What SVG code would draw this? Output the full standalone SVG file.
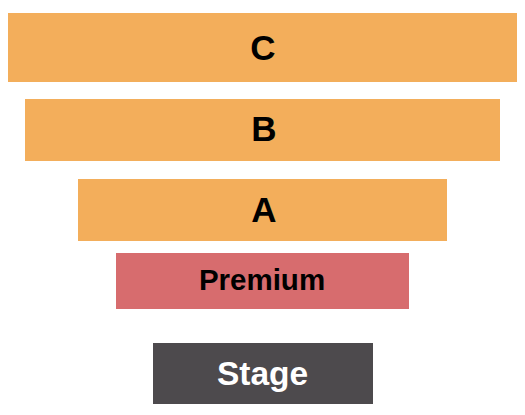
<svg xmlns="http://www.w3.org/2000/svg" width="525" height="415" viewBox="0 0 525 415">
<style>
.sec{fill:#F3AE5B}
.prem{fill:#D76C6E}
.stage{fill:#4D4A4D}
text{font-family:"Liberation Sans",Arial,sans-serif;font-weight:bold;text-anchor:middle}
.big{font-size:35px;fill:#000}
.pl{font-size:29.5px;fill:#000}
.sl{font-size:33.5px;fill:#fff}
</style>
<rect width="525" height="415" fill="#fff"/>
<g id="section-C"><rect class="sec" x="8" y="13" width="509" height="69"/><text class="big" x="263" y="59.5">C</text></g>
<g id="section-B"><rect class="sec" x="25" y="99" width="475" height="62"/><text class="big" x="264" y="141">B</text></g>
<g id="section-A"><rect class="sec" x="78" y="179" width="369" height="62"/><text class="big" x="264" y="221.5">A</text></g>
<g id="section-Premium"><rect class="prem" x="116" y="253" width="293" height="56"/><text class="pl" x="262" y="290">Premium</text></g>
<g id="stage"><rect class="stage" x="153" y="343" width="220" height="61"/><text class="sl" x="262.5" y="385">Stage</text></g>
<g id="connectors"/>
</svg>
